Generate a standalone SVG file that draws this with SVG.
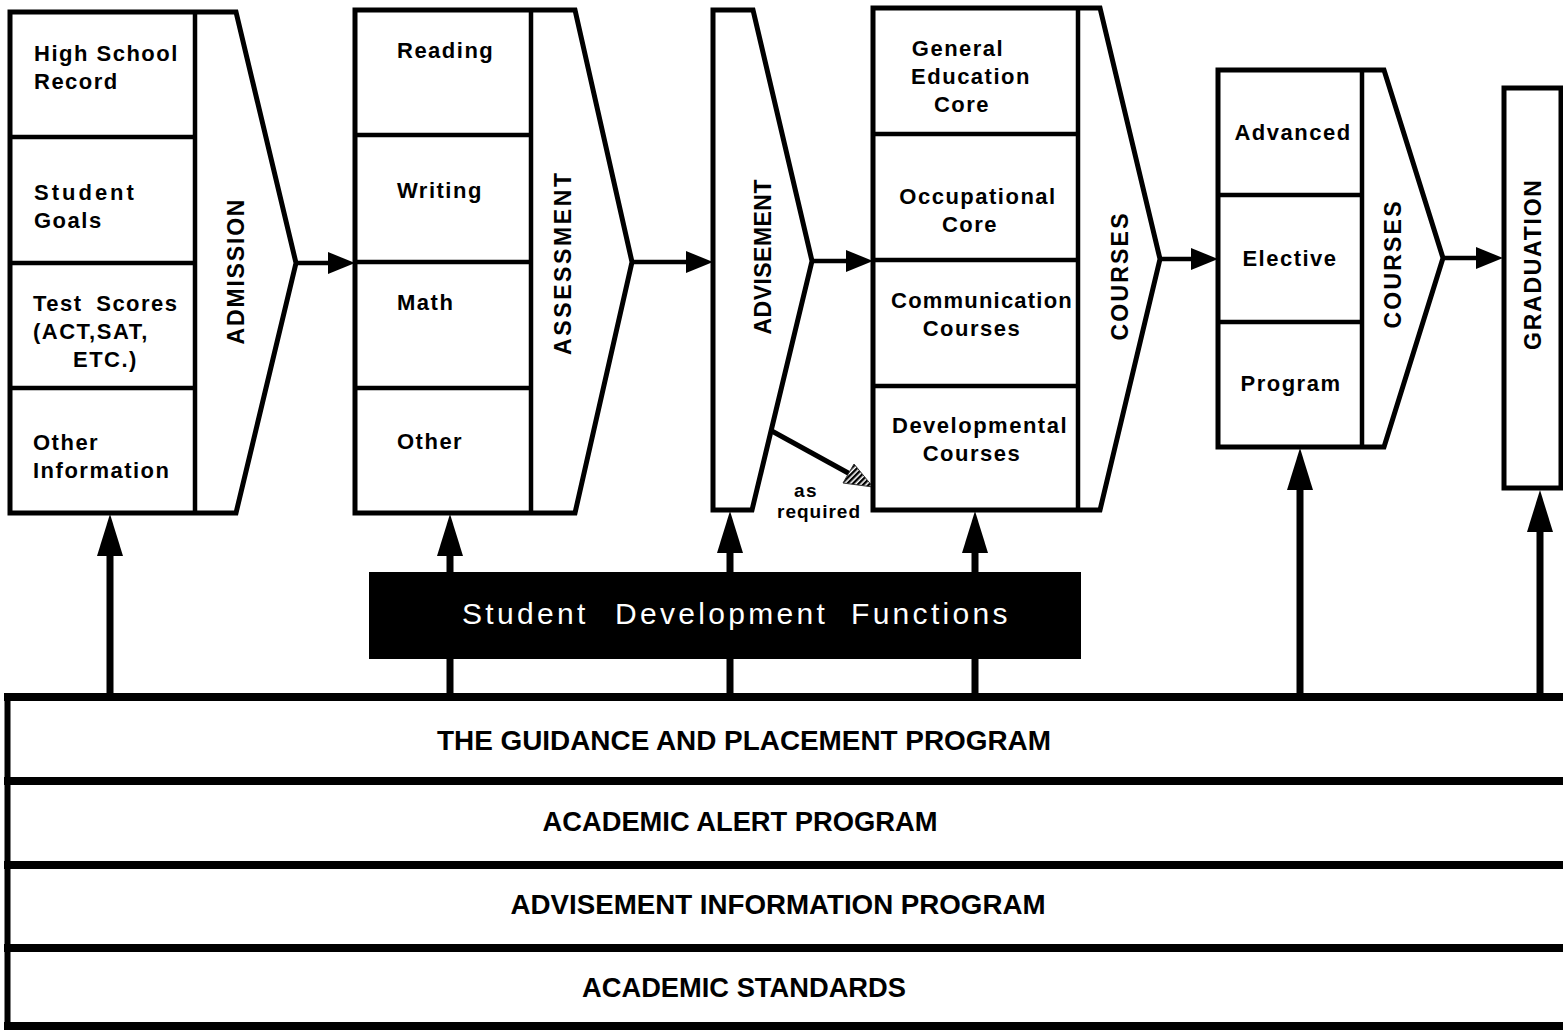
<svg xmlns="http://www.w3.org/2000/svg" width="1563" height="1030" viewBox="0 0 1563 1030">
  <style>
    .box { fill: #fff; stroke: #000; stroke-width: 5; stroke-linejoin: miter; }
    .div { stroke: #000; stroke-width: 4.5; fill: none; }
    .cell { font-family: "Liberation Sans", Arial, sans-serif; font-weight: bold; font-size: 22px; letter-spacing: 1.5px; fill: #000; }
    .mid { text-anchor: middle; }
    .head { font-family: "Liberation Sans", Arial, sans-serif; font-weight: bold; font-size: 23px; text-anchor: middle; fill: #000; }
    .conn { stroke: #000; stroke-width: 4.5; fill: none; }
    .up { stroke: #000; stroke-width: 7; fill: none; }
    .bar { stroke: #000; stroke-width: 8; fill: none; }
    .band { font-family: "Liberation Sans", Arial, sans-serif; font-weight: bold; font-size: 27px; text-anchor: middle; fill: #000; }
    .sdf { font-family: "Liberation Sans", Arial, sans-serif; font-size: 30px; letter-spacing: 3.3px; fill: #fff; }
  </style>
  <defs>
    <pattern id="hatch" width="4" height="4" patternUnits="userSpaceOnUse" patternTransform="rotate(45)">
      <rect width="4" height="4" fill="#fff"/>
      <rect width="2.4" height="4" fill="#000"/>
    </pattern>
  </defs>

  <rect width="1563" height="1030" fill="#fff"/>

  <!-- flow connectors and support arrows -->
  <g id="connectors">
    <!-- horizontal flow arrows -->
    <line class="conn" x1="296" y1="263" x2="332" y2="263"/>
    <polygon points="355,263 328,252 328,274" fill="#000"/>
    <line class="conn" x1="632" y1="262" x2="690" y2="262"/>
    <polygon points="713,262 686,251 686,273" fill="#000"/>
    <line class="conn" x1="812" y1="261" x2="850" y2="261"/>
    <polygon points="873,261 846,250 846,272" fill="#000"/>
    <line class="conn" x1="1160" y1="259" x2="1195" y2="259"/>
    <polygon points="1218,259 1191,248 1191,270" fill="#000"/>
    <line class="conn" x1="1443" y1="258" x2="1480" y2="258"/>
    <polygon points="1503,258 1476,247 1476,269" fill="#000"/>

    <!-- optional path to developmental courses -->
    <line x1="770" y1="430" x2="850" y2="474" stroke="#000" stroke-width="5"/>
    <polygon points="873,487 843,483 854,464" fill="url(#hatch)" stroke="#333" stroke-width="1"/>

    <!-- upward arrows from the program bands -->
    <line class="up" x1="110" y1="697" x2="110" y2="550"/>
    <polygon points="110,514 97,556 123,556" fill="#000"/>
    <line class="up" x1="450" y1="697" x2="450" y2="550"/>
    <polygon points="450,514 437,556 463,556" fill="#000"/>
    <line class="up" x1="730" y1="697" x2="730" y2="550"/>
    <polygon points="730,511 717,553 743,553" fill="#000"/>
    <line class="up" x1="975" y1="697" x2="975" y2="550"/>
    <polygon points="975,511 962,553 988,553" fill="#000"/>
    <line class="up" x1="1300" y1="697" x2="1300" y2="485"/>
    <polygon points="1300,448 1287,490 1313,490" fill="#000"/>
    <line class="up" x1="1540" y1="697" x2="1540" y2="528"/>
    <polygon points="1540,490 1527,532 1553,532" fill="#000"/>
  </g>

  <!-- Admission -->
  <g id="admission">
    <path class="box" d="M10,12 H236 L296,263 L236,513 H10 Z"/>
    <line class="div" x1="195" y1="12" x2="195" y2="513"/>
    <line class="div" x1="10" y1="137" x2="195" y2="137"/>
    <line class="div" x1="10" y1="263" x2="195" y2="263"/>
    <line class="div" x1="10" y1="388" x2="195" y2="388"/>
    <text class="cell" x="34" y="61">High School</text>
    <text class="cell" x="34" y="89">Record</text>
    <text class="cell" x="34" y="200" style="letter-spacing:3px">Student</text>
    <text class="cell" x="34" y="228">Goals</text>
    <text class="cell" x="33" y="311" word-spacing="6">Test Scores</text>
    <text class="cell" x="33" y="339">(ACT,SAT,</text>
    <text class="cell" x="73" y="367">ETC.)</text>
    <text class="cell" x="33" y="450">Other</text>
    <text class="cell" x="33" y="478">Information</text>
    <text class="head" transform="translate(236,272) rotate(-90)" y="8" textLength="145" lengthAdjust="spacing">ADMISSION</text>
  </g>

  <!-- Assessment -->
  <g id="assessment">
    <path class="box" d="M355,10 H575 L632,262 L575,513 H355 Z"/>
    <line class="div" x1="531" y1="10" x2="531" y2="513"/>
    <line class="div" x1="355" y1="135" x2="531" y2="135"/>
    <line class="div" x1="355" y1="262" x2="531" y2="262"/>
    <line class="div" x1="355" y1="388" x2="531" y2="388"/>
    <text class="cell" x="397" y="58">Reading</text>
    <text class="cell" x="397" y="198">Writing</text>
    <text class="cell" x="397" y="310">Math</text>
    <text class="cell" x="397" y="449">Other</text>
    <text class="head" transform="translate(563,264) rotate(-90)" y="8" textLength="182" lengthAdjust="spacing">ASSESSMENT</text>
  </g>

  <!-- Advisement -->
  <g id="advisement">
    <path class="box" d="M713,10 H753 L812,261 L752,510 H713 Z"/>
    <text class="head" transform="translate(763,257) rotate(-90)" y="8" textLength="155" lengthAdjust="spacing">ADVISEMENT</text>
    <text class="cell mid" x="806" y="497" style="font-size:19px">as</text>
    <text class="cell mid" x="819" y="518" style="font-size:19px;letter-spacing:1px">required</text>
  </g>

  <!-- First-level courses -->
  <g id="courses">
    <path class="box" d="M873,8 H1100 L1160,259 L1100,510 H873 Z"/>
    <line class="div" x1="1078" y1="8" x2="1078" y2="510"/>
    <line class="div" x1="873" y1="134" x2="1078" y2="134"/>
    <line class="div" x1="873" y1="260" x2="1078" y2="260"/>
    <line class="div" x1="873" y1="386" x2="1078" y2="386"/>
    <text class="cell mid" x="958" y="56">General</text>
    <text class="cell mid" x="971" y="84">Education</text>
    <text class="cell mid" x="962" y="112">Core</text>
    <text class="cell mid" x="978" y="204">Occupational</text>
    <text class="cell mid" x="970" y="232">Core</text>
    <text class="cell mid" x="982" y="308" style="letter-spacing:1.2px">Communication</text>
    <text class="cell mid" x="972" y="336">Courses</text>
    <text class="cell mid" x="980" y="433">Developmental</text>
    <text class="cell mid" x="972" y="461">Courses</text>
    <text class="head" transform="translate(1120,277) rotate(-90)" y="8" textLength="127" lengthAdjust="spacing">COURSES</text>
  </g>

  <!-- Program courses -->
  <g id="program-courses">
    <path class="box" d="M1218,70 H1384 L1443,258 L1384,447 H1218 Z"/>
    <line class="div" x1="1362" y1="70" x2="1362" y2="447"/>
    <line class="div" x1="1218" y1="195" x2="1362" y2="195"/>
    <line class="div" x1="1218" y1="322" x2="1362" y2="322"/>
    <text class="cell mid" x="1293" y="140">Advanced</text>
    <text class="cell mid" x="1290" y="266">Elective</text>
    <text class="cell mid" x="1291" y="391">Program</text>
    <text class="head" transform="translate(1393,265) rotate(-90)" y="8" textLength="127" lengthAdjust="spacing">COURSES</text>
  </g>

  <!-- Graduation -->
  <g id="graduation">
    <rect class="box" x="1504" y="88" width="57" height="400"/>
    <text class="head" transform="translate(1533,265) rotate(-90)" y="8" textLength="170" lengthAdjust="spacing">GRADUATION</text>
  </g>

  <!-- Student development functions -->
  <g id="student-development">
    <rect x="369" y="572" width="712" height="87" fill="#000"/>
    <text class="sdf" x="462" y="624">Student</text>
    <text class="sdf" x="615" y="624">Development</text>
    <text class="sdf" x="851" y="624">Functions</text>
  </g>

  <!-- Support program bands -->
  <g id="program-bands">
    <line class="bar" x1="4" y1="697" x2="1563" y2="697"/>
    <line class="bar" x1="4" y1="781" x2="1563" y2="781"/>
    <line class="bar" x1="4" y1="865" x2="1563" y2="865"/>
    <line class="bar" x1="4" y1="948" x2="1563" y2="948"/>
    <line class="bar" x1="4" y1="1026" x2="1563" y2="1026"/>
    <line x1="7.5" y1="693" x2="7.5" y2="1030" stroke="#000" stroke-width="6"/>
    <text class="band" x="744" y="750" textLength="614" lengthAdjust="spacingAndGlyphs">THE GUIDANCE AND PLACEMENT PROGRAM</text>
    <text class="band" x="740" y="831" textLength="395" lengthAdjust="spacingAndGlyphs">ACADEMIC ALERT PROGRAM</text>
    <text class="band" x="778" y="914" textLength="535" lengthAdjust="spacingAndGlyphs">ADVISEMENT INFORMATION PROGRAM</text>
    <text class="band" x="744" y="997" textLength="324" lengthAdjust="spacingAndGlyphs">ACADEMIC STANDARDS</text>
  </g>
</svg>
